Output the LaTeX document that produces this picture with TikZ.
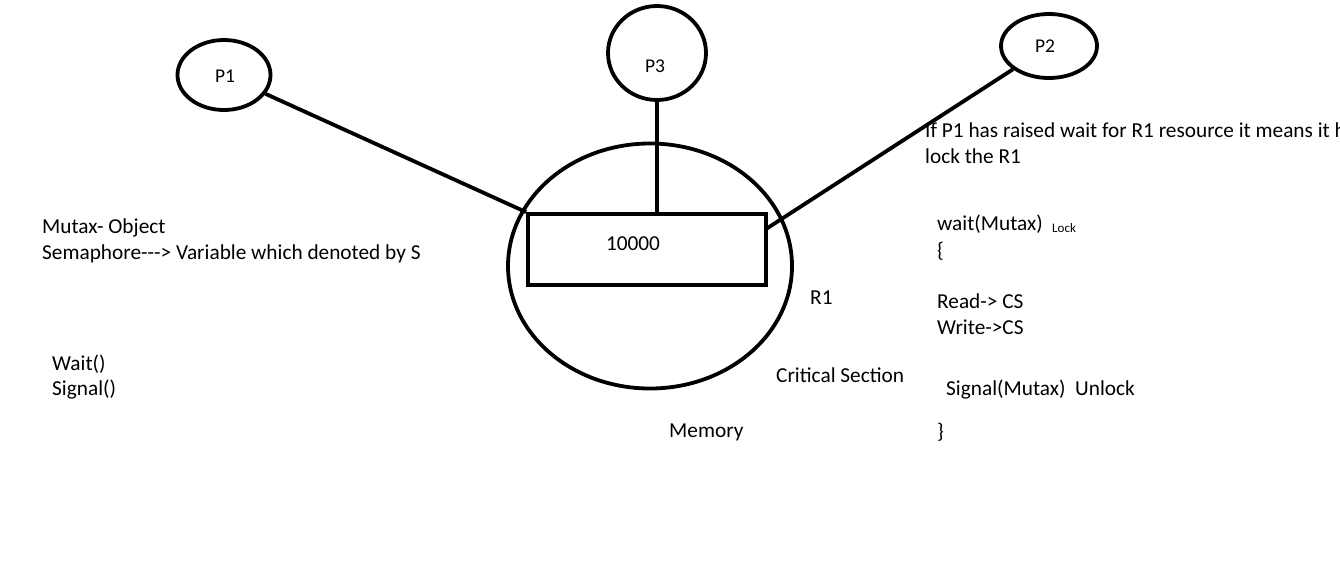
\documentclass[tikz,border=0pt]{standalone}
\usepackage{fontspec}
\setmainfont{Carlito}
\usetikzlibrary{shapes.geometric}
\begin{document}
\begin{tikzpicture}[x=1pt,y=-1pt,
  proc/.style={draw,line width=3.8pt,ellipse,inner sep=0pt,font=\fontsize{19.5}{22}\selectfont},
  plabel/.style={font=\fontsize{19.5}{22}\selectfont},
  wire/.style={line width=3.8pt},
  txt/.style={anchor=west,inner sep=0pt,font=\fontsize{21.3}{26}\selectfont,align=left},
  small/.style={anchor=west,inner sep=0pt,font=\fontsize{13}{15}\selectfont}]
\useasboundingbox[fill=white] (0,0) rectangle (1340,574);
% processes
\node[proc,minimum width=93pt,minimum height=70pt] (p1) at (224,75) {};
\node[plabel] (p1t) at (225,76) {P1};
\node[proc,minimum width=98pt,minimum height=94pt] (p3) at (657,53) {};
\node[plabel] (p3t) at (655,66) {P3};
\node[proc,minimum width=96pt,minimum height=64pt] (p2) at (1049,46) {};
\node[plabel] (p2t) at (1045,46) {P2};
% memory
\node[draw,line width=3.8pt,ellipse,minimum width=284pt,minimum height=245pt] (mem) at (650,266) {};
\node[draw,line width=3.8pt,rectangle,minimum width=238pt,minimum height=71pt,inner sep=0pt] (buf) at (647,249.5) {};
\node[font=\fontsize{21.3}{24}\selectfont] (val) at (633,244) {10000};
\coordinate (bufR) at (766,229);
% connectors
\draw[wire] (p1) -- (buf.north west);
\draw[wire] (p3) -- (buf.north -| p3.south);
\draw[wire] (p2) -- (bufR);
% labels
\node[txt] (l1) at (925,130) {If P1 has raised wait for R1 resource it means it h};
\node[txt] (l2) at (925,156) {lock the R1};
\node[txt] (m1) at (42,228) {Mutax- Object};
\node[txt] (m2) at (42,254) {Semaphore-{}-{}-> Variable which denoted by S};
\node[txt] (w1) at (52,364) {Wait()};
\node[txt] (w2) at (52,390) {Signal()};
\node[txt] (r1) at (810,298) {R1};
\node[txt] (cs) at (776,375) {Critical Section};
\node[txt] (me) at (669,432) {Memory};
\node[txt] (c1) at (937,224) {wait(Mutax)};
\node[small] (lk) at (1052,228) {Lock};
\node[txt] (c2) at (937,251) {\{};
\node[txt] (c3) at (937,301) {Read-> CS};
\node[txt] (c4) at (937,327) {Write->CS};
\node[txt] (c5) at (946,390) {Signal(Mutax)\ \ Unlock};
\node[txt] (c6) at (937,432) {\}};
\end{tikzpicture}
\end{document}
